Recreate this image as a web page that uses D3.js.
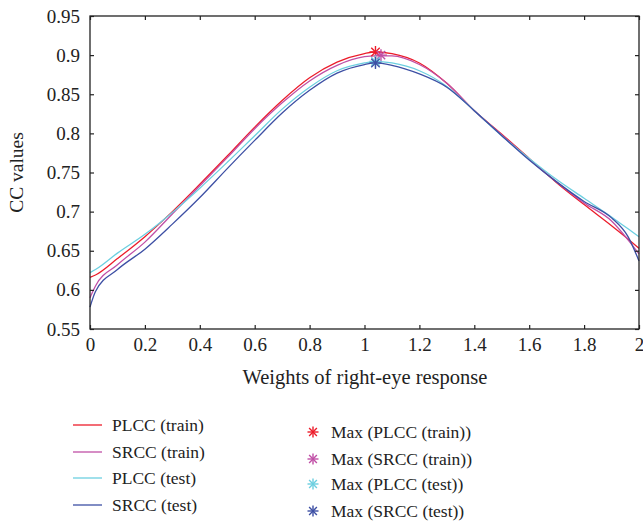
<!DOCTYPE html>
<html>
<head>
<meta charset="utf-8">
<script src="https://cdn.jsdelivr.net/npm/d3@7"></script>
<style>
  body { margin: 0; background: #fff; }
  svg { display: block; font-family: "Liberation Serif", "DejaVu Serif", serif; }
</style>
</head>
<body>
<script>
// weights of the right-eye response (x values)
const weights = [0, 0.02, 0.1, 0.2, 0.3, 0.4, 0.5, 0.6, 0.7, 0.8, 0.9, 1.0, 1.04, 1.1, 1.2, 1.3, 1.4, 1.5, 1.6, 1.7, 1.8, 1.9, 1.96, 2.0];

const plccTrain = [0.616, 0.619, 0.640, 0.668, 0.700, 0.735, 0.771, 0.808, 0.842, 0.871, 0.891, 0.902, 0.904, 0.902, 0.890, 0.864, 0.829, 0.799, 0.768, 0.737, 0.709, 0.682, 0.665, 0.653];
const srccTrain = [0.590, 0.605, 0.632, 0.661, 0.697, 0.733, 0.769, 0.806, 0.839, 0.867, 0.887, 0.898, 0.899, 0.899, 0.888, 0.864, 0.829, 0.798, 0.767, 0.738, 0.711, 0.688, 0.664, 0.646];
const plccTest  = [0.622, 0.626, 0.647, 0.671, 0.699, 0.730, 0.763, 0.797, 0.831, 0.859, 0.880, 0.890, 0.892, 0.890, 0.880, 0.860, 0.829, 0.797, 0.768, 0.741, 0.717, 0.693, 0.678, 0.668];
const srccTest  = [0.578, 0.598, 0.626, 0.652, 0.684, 0.718, 0.755, 0.791, 0.826, 0.855, 0.877, 0.888, 0.890, 0.887, 0.876, 0.859, 0.829, 0.797, 0.766, 0.738, 0.713, 0.692, 0.668, 0.637];

// maxima [weight, value]
const maxPoints = [[1.04, 0.904], [1.06, 0.900], [1.04, 0.892], [1.04, 0.890]];

const seriesNames = ["PLCC (train)", "SRCC (train)", "PLCC (test)", "SRCC (test)"];
const maxNames = ["Max (PLCC (train))", "Max (SRCC (train))", "Max (PLCC (test))", "Max (SRCC (test))"];
const colors = ["#ec1c2a", "#c04fa6", "#6ccfe0", "#3d4fa4"];

const xTicks = [0, 0.2, 0.4, 0.6, 0.8, 1, 1.2, 1.4, 1.6, 1.8, 2];
const yTicks = [0.55, 0.6, 0.65, 0.7, 0.75, 0.8, 0.85, 0.9, 0.95];

const width = 643, height = 523;
const margin = {left: 90, right: 4, top: 16, bottom: 194};

const x = d3.scaleLinear().domain([0, 2]).range([margin.left, width - margin.right]);
const y = d3.scaleLinear().domain([0.55, 0.95]).range([height - margin.bottom, margin.top]);

const svg = d3.select("body").append("svg")
    .attr("width", width)
    .attr("height", height);

const allSeries = [plccTrain, srccTrain, plccTest, srccTest];

const line = d3.line()
    .x((d, i) => x(weights[i]))
    .y(d => y(d))
    .curve(d3.curveMonotoneX);

const plotArea = svg.append("g");

allSeries.forEach((s, k) => {
    plotArea.append("path")
        .datum(s)
        .attr("fill", "none")
        .attr("stroke", colors[k])
        .attr("stroke-width", 1.3)
        .attr("d", line);
});

// asterisk marker like matlab '*'
function asterisk(g, cx, cy, r, color) {
    [0, 45, 90, 135].forEach(a => {
        const rad = a * Math.PI / 180;
        g.append("line")
            .attr("x1", cx - r * Math.cos(rad)).attr("y1", cy - r * Math.sin(rad))
            .attr("x2", cx + r * Math.cos(rad)).attr("y2", cy + r * Math.sin(rad))
            .attr("stroke", color)
            .attr("stroke-width", 1.4);
    });
}

maxPoints.forEach((p, k) => {
    asterisk(plotArea, x(p[0]), y(p[1]), 6, colors[k]);
});

// box + axes
const x0 = x.range()[0], x1 = x.range()[1];
const y0 = y.range()[0], y1 = y.range()[1];

const axisBottom = d3.axisBottom(x).tickValues(xTicks).tickSizeInner(-4).tickSizeOuter(0).tickPadding(9)
    .tickFormat(d3.format("~g"));
const axisTop = d3.axisTop(x).tickValues(xTicks).tickSizeInner(-4).tickSizeOuter(0).tickFormat("");
const axisLeft = d3.axisLeft(y).tickValues(yTicks).tickSizeInner(-4).tickSizeOuter(0).tickPadding(10)
    .tickFormat(d3.format("~g"));
const axisRight = d3.axisRight(y).tickValues(yTicks).tickSizeInner(-4).tickSizeOuter(0).tickFormat("");

function styleAxis(g) {
    g.select(".domain").remove();
    g.selectAll("line").attr("stroke", "#222").attr("stroke-width", 1.2);
    g.selectAll("text").attr("fill", "#222").style("font-size", "19px")
        .style("font-family", "'Liberation Serif', 'DejaVu Serif', serif");
}

svg.append("g").attr("transform", `translate(0,${y0})`).call(axisBottom).call(styleAxis);
svg.append("g").attr("transform", `translate(0,${y1})`).call(axisTop).call(styleAxis);
svg.append("g").attr("transform", `translate(${x0},0)`).call(axisLeft).call(styleAxis);
svg.append("g").attr("transform", `translate(${x1},0)`).call(axisRight).call(styleAxis);

svg.append("rect")
    .attr("x", x0).attr("y", y1)
    .attr("width", x1 - x0).attr("height", y0 - y1)
    .attr("fill", "none")
    .attr("stroke", "#222")
    .attr("stroke-width", 1.3);

// axis titles
svg.append("text")
    .attr("x", 365)
    .attr("y", 384)
    .attr("text-anchor", "middle")
    .attr("fill", "#222")
    .style("font-size", "20.5px")
    .text("Weights of right-eye response");

svg.append("text")
    .attr("transform", `translate(23,${(y0 + y1) / 2}) rotate(-90)`)
    .attr("text-anchor", "middle")
    .attr("fill", "#222")
    .style("font-size", "19.5px")
    .text("CC values");

// legend
const legend = svg.append("g").style("font-size", "17.5px").attr("fill", "#222");
const lineRows = [425, 452, 478, 505];
const markRows = [432, 459, 484, 511];

seriesNames.forEach((name, k) => {
    legend.append("line")
        .attr("x1", 73).attr("x2", 102)
        .attr("y1", lineRows[k]).attr("y2", lineRows[k])
        .attr("stroke", colors[k]).attr("stroke-width", 1.3);
    legend.append("text")
        .attr("x", 112).attr("y", lineRows[k] + 6)
        .text(name);
});

maxNames.forEach((name, k) => {
    asterisk(legend, 313, markRows[k], 5.5, colors[k]);
    legend.append("text")
        .attr("x", 331).attr("y", markRows[k] + 6)
        .text(name);
});
</script>
</body>
</html>
